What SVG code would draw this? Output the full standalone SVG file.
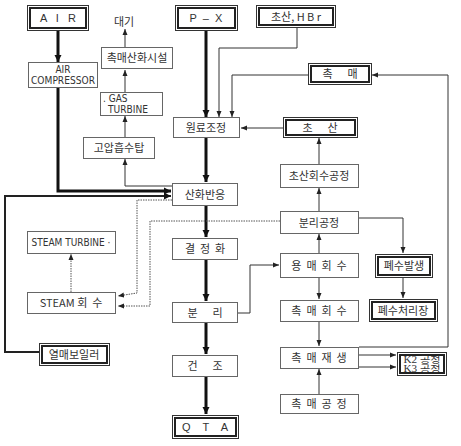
<svg xmlns="http://www.w3.org/2000/svg" width="461" height="446" viewBox="0 0 461 446" xml:space="preserve">
<defs>
<style>
text{white-space:pre}
.b{fill:#fff;stroke:#666;stroke-width:1}
.d1{fill:#fff;stroke:#333;stroke-width:1}
.d2{fill:none;stroke:#222;stroke-width:2}
.t{font-family:"Noto Sans CJK KR","Noto Sans",sans-serif;font-size:11px;fill:#333;text-anchor:middle}
.e{font-family:"Liberation Sans",Arial,sans-serif;font-size:11px;fill:#333;text-anchor:middle}
.n{font-family:"Liberation Sans Narrow","DejaVu Sans Condensed","Liberation Sans",sans-serif;font-size:10px;fill:#333}
.s{font-family:"Liberation Serif","Noto Sans CJK KR",serif;font-size:9.5px;fill:#333;text-anchor:middle}
.k3{stroke:#111;stroke-width:3;fill:none}
.k2{stroke:#222;stroke-width:2;fill:none}
.k1{stroke:#333;stroke-width:1;fill:none}
.dt{stroke:#555;stroke-width:1;fill:none;stroke-dasharray:1.5 1}
</style>
<marker id="a" markerUnits="userSpaceOnUse" markerWidth="8" markerHeight="8" refX="7" refY="4" orient="auto"><path d="M0,0.5 L7,4 L0,7.5 Z" fill="#111"/></marker>
<marker id="as" markerUnits="userSpaceOnUse" markerWidth="7" markerHeight="6" refX="6" refY="3" orient="auto"><path d="M0,0.5 L6,3 L0,5.5 Z" fill="#222"/></marker>
</defs>
<rect width="461" height="446" fill="#fff"/>

<g id="connectors">
<path class="k3" d="M58,30 V62" marker-end="url(#a)"/>
<path class="k3" d="M58,88 V191 H171" marker-end="url(#a)"/>
<path class="k3" d="M206,30 V117" marker-end="url(#a)"/>
<path class="k3" d="M206,138 V182" marker-end="url(#a)"/>
<path class="k3" d="M206,205 V237" marker-end="url(#a)"/>
<path class="k3" d="M206,259 V301" marker-end="url(#a)"/>
<path class="k3" d="M206,322 V354" marker-end="url(#a)"/>
<path class="k3" d="M206,376 V414" marker-end="url(#a)"/>
<path class="k2" d="M39,352 H5 V196 H171" marker-end="url(#a)"/>
<path class="k1" d="M172,186 H125 V159" marker-end="url(#as)"/>
<path class="k1" d="M125,137 V116" marker-end="url(#as)"/>
<path class="k1" d="M125,93 V70" marker-end="url(#as)"/>
<path class="k1" d="M125,47 V29" marker-end="url(#as)"/>
<path class="k1" d="M297,27 V48 H219 V117" marker-end="url(#as)"/>
<path class="k1" d="M308,75 H232 V117" marker-end="url(#as)"/>
<path class="k1" d="M283,128 H241" marker-end="url(#as)"/>
<path class="k1" d="M319,164 V138" marker-end="url(#as)"/>
<path class="k1" d="M319,211 V188" marker-end="url(#as)"/>
<path class="k1" d="M359,218 H403 V253" marker-end="url(#as)"/>
<path class="k1" d="M319,253 V234" marker-end="url(#as)"/>
<path class="k1" d="M319,277 V299" marker-end="url(#as)"/>
<path class="k1" d="M403,277 V298" marker-end="url(#as)"/>
<path class="k1" d="M319,321 V346" marker-end="url(#as)"/>
<path class="k1" d="M319,394 V369" marker-end="url(#as)"/>
<path class="k1" d="M359,355 H396" marker-end="url(#as)"/>
<path class="k1" d="M359,367 H396" marker-end="url(#as)"/>
<path class="k1" d="M359,347 H448 V75 H372" marker-end="url(#as)"/>
<path class="k1" d="M237,313 H250 V265 H279" marker-end="url(#as)"/>
<path class="dt" d="M172,200 H137 V293 L118,296" marker-end="url(#as)"/>
<path class="dt" d="M280,221 H150 V306 H118" marker-end="url(#as)"/>
<path class="dt" d="M71,292 V254" marker-end="url(#as)"/>
</g>

<g id="air"><rect class="d1" x="27.5" y="5.5" width="61" height="25"/><rect class="d2" x="30" y="8" width="56" height="20"/><text class="e" x="58" y="22">A   I   R</text></g>
<g id="compressor"><rect class="b" x="28.5" y="62.5" width="69" height="25"/><text class="n" x="63" y="73" text-anchor="middle">AIR</text><text class="n" x="63" y="84" text-anchor="middle" textLength="64" lengthAdjust="spacingAndGlyphs">COMPRESSOR</text></g>
<g id="daegi"><text class="t" x="124" y="26">대기</text></g>
<g id="catox"><rect class="b" x="101.5" y="47.5" width="71" height="21"/><text class="t" x="137" y="62">촉매산화시설</text></g>
<g id="gasturbine"><rect class="b" x="100.5" y="92.5" width="62" height="23"/><text class="n" x="103" y="102">. GAS</text><text class="n" x="108" y="113" textLength="40" lengthAdjust="spacingAndGlyphs">TURBINE</text></g>
<g id="absorber"><rect class="b" x="83.5" y="137.5" width="71" height="21"/><text class="t" x="119" y="152">고압흡수탑</text></g>
<g id="px"><rect class="d1" x="175.5" y="5.5" width="62" height="25"/><rect class="d2" x="178" y="8" width="57" height="20"/><text class="e" x="206" y="22">P  –  X</text></g>
<g id="acidhbr"><rect class="d1" x="256.5" y="5.5" width="79" height="22"/><rect class="d2" x="259" y="8" width="74" height="17"/><text class="t" x="296" y="21">초산, H B r</text></g>
<g id="feed"><rect class="b" x="173.5" y="117.5" width="66" height="20"/><text class="t" x="206" y="132">원료조정</text></g>
<g id="catalyst"><rect class="d1" x="308.5" y="63.5" width="63" height="21"/><rect class="d2" x="311" y="66" width="58" height="16"/><text class="t" x="340" y="78">촉      매</text></g>
<g id="acetic"><rect class="d1" x="283.5" y="117.5" width="74" height="20"/><rect class="d2" x="286" y="120" width="69" height="15"/><text class="t" x="320" y="132">초      산</text></g>
<g id="aceticrec"><rect class="b" x="280.5" y="164.5" width="78" height="23"/><text class="t" x="319" y="180">초산회수공정</text></g>
<g id="sepproc"><rect class="b" x="280.5" y="211.5" width="78" height="22"/><text class="t" x="319" y="227">분리공정</text></g>
<g id="oxid"><rect class="b" x="172.5" y="183.5" width="65" height="22"/><text class="t" x="205" y="199">산화반응</text></g>
<g id="cryst"><rect class="b" x="172.5" y="238.5" width="65" height="21"/><text class="t" x="205" y="253">결  정  화</text></g>
<g id="solvent"><rect class="b" x="280.5" y="253.5" width="78" height="24"/><text class="t" x="319" y="270">용  매  회  수</text></g>
<g id="wastewater"><rect class="d1" x="375.5" y="254.5" width="57" height="23"/><rect class="d2" x="378" y="257" width="52" height="18"/><text class="t" x="404" y="270">폐수발생</text></g>
<g id="sep"><rect class="b" x="172.5" y="302.5" width="65" height="20"/><text class="t" x="205" y="317">분      리</text></g>
<g id="catrec"><rect class="b" x="280.5" y="300.5" width="78" height="21"/><text class="t" x="319" y="315">촉  매  회  수</text></g>
<g id="wwtp"><rect class="d1" x="369.5" y="299.5" width="68" height="22"/><rect class="d2" x="372" y="302" width="63" height="17"/><text class="t" x="403" y="315">폐수처리장</text></g>
<g id="dry"><rect class="b" x="172.5" y="355.5" width="65" height="21"/><text class="t" x="205" y="370">건      조</text></g>
<g id="catregen"><rect class="b" x="280.5" y="347.5" width="78" height="21"/><text class="t" x="319" y="362">촉  매  재  생</text></g>
<g id="k2k3"><rect class="d1" x="397.5" y="352.5" width="49" height="23"/><rect class="d2" x="400" y="355" width="44" height="18"/><text class="s" x="422" y="362.5" textLength="37" lengthAdjust="spacingAndGlyphs">K2 공정</text><text class="s" x="422" y="372" textLength="37" lengthAdjust="spacingAndGlyphs">K3 공정</text></g>
<g id="catproc"><rect class="b" x="280.5" y="394.5" width="78" height="19"/><text class="t" x="319" y="408">촉  매  공  정</text></g>
<g id="qta"><rect class="d1" x="172.5" y="415.5" width="66" height="23"/><rect class="d2" x="175" y="418" width="61" height="18"/><text class="e" x="205" y="431">Q    T    A</text></g>
<g id="steamturbine"><rect class="b" x="27.5" y="231.5" width="88" height="22"/><text class="n" x="71" y="246" text-anchor="middle" font-size="11">STEAM TURBINE ·</text></g>
<g id="steamrec"><rect class="b" x="27.5" y="292.5" width="88" height="21"/><text class="t" x="71" y="307">STEAM 회  수</text></g>
<g id="boiler"><rect class="d1" x="39.5" y="343.5" width="70" height="22"/><rect class="d2" x="42" y="346" width="65" height="17"/><text class="t" x="74" y="359">열매보일러</text></g>
</svg>
